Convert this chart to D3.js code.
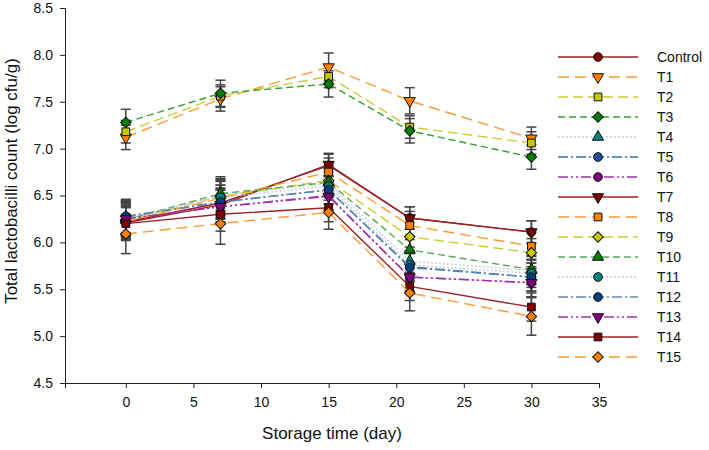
<!DOCTYPE html>
<html>
<head>
<meta charset="utf-8">
<script src="https://cdn.jsdelivr.net/npm/d3@7"></script>
<style>
  body { margin: 0; background: #fff; }
  svg text { font-family: "Liberation Sans", Arial, sans-serif; fill: #111; }
</style>
</head>
<body>
<div id="chart"></div>
<script>
// Storage days sampled
const days = [0, 7, 15, 21, 30];

const seriesNames = ['Control', 'T1', 'T2', 'T3', 'T4', 'T5', 'T6', 'T7',
  'T8', 'T9', 'T10', 'T11', 'T12', 'T13', 'T14', 'T15'];

// mean log cfu/g per day
const control = [6.22, 6.42, 6.82, 6.26, 6.11];
const t1  = [7.12, 7.53, 7.87, 7.51, 7.11];
const t2  = [7.18, 7.56, 7.77, 7.23, 7.06];
const t3  = [7.28, 7.59, 7.69, 7.19, 6.91];
const t4  = [6.25, 6.50, 6.63, 5.80, 5.70];
const t5  = [6.27, 6.43, 6.56, 5.74, 5.63];
const t6  = [6.25, 6.38, 6.50, 5.63, 5.57];
const t7  = [6.21, 6.40, 6.83, 6.26, 6.11];
const t8  = [6.22, 6.47, 6.75, 6.18, 5.96];
const t9  = [6.23, 6.49, 6.66, 6.06, 5.89];
const t10 = [6.24, 6.52, 6.64, 5.92, 5.71];
const t11 = [6.26, 6.48, 6.60, 5.76, 5.67];
const t12 = [6.28, 6.43, 6.56, 5.73, 5.63];
const t13 = [6.25, 6.38, 6.49, 5.63, 5.57];
const t14 = [6.20, 6.30, 6.37, 5.53, 5.31];
const t15 = [6.09, 6.20, 6.32, 5.46, 5.21];

// standard deviations
const errControl = [0.15, 0.15, 0.12, 0.12, 0.12];
const errT1  = [0.13, 0.13, 0.15, 0.14, 0.12];
const errT2  = [0.12, 0.12, 0.12, 0.12, 0.12];
const errT3  = [0.14, 0.14, 0.14, 0.13, 0.13];
const errT4  = [0.18, 0.18, 0.15, 0.15, 0.15];
const errT5  = [0.18, 0.18, 0.15, 0.15, 0.15];
const errT6  = [0.18, 0.18, 0.15, 0.15, 0.15];
const errT7  = [0.18, 0.18, 0.12, 0.12, 0.12];
const errT8  = [0.18, 0.18, 0.15, 0.15, 0.15];
const errT9  = [0.18, 0.18, 0.15, 0.15, 0.15];
const errT10 = [0.18, 0.18, 0.15, 0.15, 0.15];
const errT11 = [0.18, 0.18, 0.15, 0.15, 0.15];
const errT12 = [0.18, 0.18, 0.15, 0.15, 0.15];
const errT13 = [0.18, 0.18, 0.15, 0.15, 0.15];
const errT14 = [0.18, 0.18, 0.15, 0.15, 0.15];
const errT15 = [0.21, 0.22, 0.18, 0.19, 0.2];

const yTicks = [4.5, 5.0, 5.5, 6.0, 6.5, 7.0, 7.5, 8.0, 8.5];
const xTicks = [0, 5, 10, 15, 20, 25, 30, 35];

const values = [control, t1, t2, t3, t4, t5, t6, t7, t8, t9, t10, t11, t12, t13, t14, t15];
const errors = [errControl, errT1, errT2, errT3, errT4, errT5, errT6, errT7,
  errT8, errT9, errT10, errT11, errT12, errT13, errT14, errT15];

// style per series: line colour, dash, marker shape, marker fill
const styles = [
  { line: '#9b2226', dash: null,            shape: 'circle',   fill: '#8b0000' },
  { line: '#ff9933', dash: '11,6',          shape: 'triDown',  fill: '#ff8000' },
  { line: '#cccc33', dash: '10,5',          shape: 'square',   fill: '#c8c800' },
  { line: '#33a033', dash: '7,4',           shape: 'diamond',  fill: '#008000' },
  { line: '#c0d0e0', dash: '2,2',           shape: 'triUp',    fill: '#008080' },
  { line: '#3a6ea5', dash: '10,3,2,3',      shape: 'circle',   fill: '#1f4e9a' },
  { line: '#a030b0', dash: '10,3,2,3,2,3',  shape: 'circle',   fill: '#800080' },
  { line: '#9b2226', dash: null,            shape: 'triDown',  fill: '#800000' },
  { line: '#ff9933', dash: '11,6',          shape: 'square',   fill: '#ff8000' },
  { line: '#cccc33', dash: '10,5',          shape: 'diamond',  fill: '#c8c800' },
  { line: '#55aa55', dash: '7,4',           shape: 'triUp',    fill: '#008000' },
  { line: '#c0d0e0', dash: '2,2',           shape: 'circle',   fill: '#008080' },
  { line: '#5a86b8', dash: '10,3,2,3',      shape: 'circle',   fill: '#003f7f' },
  { line: '#a030b0', dash: '10,3,2,3,2,3',  shape: 'triDown',  fill: '#800080' },
  { line: '#9b2226', dash: null,            shape: 'square',   fill: '#800000' },
  { line: '#ff9933', dash: '11,6',          shape: 'diamond',  fill: '#ff8000' }
];

const symbolType = {
  circle: d3.symbolCircle, square: d3.symbolSquare, diamond: d3.symbolSquare,
  triUp: d3.symbolTriangle, triDown: d3.symbolTriangle
};
const symbolSize = { circle: 60, square: 60, diamond: 55, triUp: 55, triDown: 55 };
const symbolRot = { circle: 0, square: 0, diamond: 45, triUp: 0, triDown: 180 };

const width = 709, height = 450;
const svg = d3.select('#chart').append('svg')
  .attr('width', width).attr('height', height);

const x = d3.scaleLinear().domain([-4.5, 35]).range([65, 599]);
const y = d3.scaleLinear().domain([4.5, 8.5]).range([383, 8]);

// Axes
svg.append('g')
  .attr('transform', 'translate(0,383)')
  .call(d3.axisBottom(x).tickValues(xTicks).tickSizeOuter(0).tickSize(5).tickPadding(9))
  .call(g => g.selectAll('text').attr('font-size', 14))
  .call(g => g.selectAll('line,path').attr('stroke', '#222'));

svg.append('g')
  .attr('transform', 'translate(65,0)')
  .call(d3.axisLeft(y).tickValues(yTicks).tickFormat(d3.format('.1f')).tickSizeOuter(0).tickSize(5).tickPadding(7))
  .call(g => g.selectAll('text').attr('font-size', 14))
  .call(g => g.selectAll('line,path').attr('stroke', '#222'));

// Axis titles
svg.append('text')
  .attr('x', 332).attr('y', 439)
  .attr('text-anchor', 'middle').attr('font-size', 17)
  .text('Storage time (day)');

svg.append('text')
  .attr('transform', 'rotate(-90)')
  .attr('x', -181).attr('y', 17)
  .attr('text-anchor', 'middle').attr('font-size', 17)
  .text('Total lactobacilli count (log cfu/g)');

function drawMarker(g, shape, fill, cx, cy) {
  const p = d3.symbol().type(symbolType[shape]).size(symbolSize[shape]);
  g.append('path')
    .attr('d', p())
    .attr('transform', `translate(${cx},${cy}) rotate(${symbolRot[shape]})`)
    .attr('fill', fill)
    .attr('stroke', '#111')
    .attr('stroke-width', 1);
}

const plot = svg.append('g');
const line = d3.line().x((d, i) => x(days[i])).y(d => y(d));

// Error bars first
values.forEach((vals, s) => {
  const eb = plot.append('g').attr('stroke', '#444').attr('stroke-width', 1.5);
  vals.forEach((v, i) => {
    const cx = x(days[i]);
    const lo = y(v - errors[s][i]), hi = y(v + errors[s][i]);
    eb.append('line').attr('x1', cx).attr('x2', cx).attr('y1', lo).attr('y2', hi);
    eb.append('line').attr('x1', cx - 5).attr('x2', cx + 5).attr('y1', lo).attr('y2', lo);
    eb.append('line').attr('x1', cx - 5).attr('x2', cx + 5).attr('y1', hi).attr('y2', hi);
  });
});

// Lines and markers
values.forEach((vals, s) => {
  const st = styles[s];
  plot.append('path')
    .datum(vals)
    .attr('fill', 'none')
    .attr('stroke', st.line)
    .attr('stroke-width', 1.4)
    .attr('stroke-dasharray', st.dash)
    .attr('d', line);
  const mg = plot.append('g');
  vals.forEach((v, i) => drawMarker(mg, st.shape, st.fill, x(days[i]), y(v)));
});

// Legend
const legend = svg.append('g');
seriesNames.forEach((name, s) => {
  const st = styles[s];
  const ly = 57 + s * 20;
  legend.append('line')
    .attr('x1', 558).attr('x2', 638).attr('y1', ly).attr('y2', ly)
    .attr('stroke', st.line).attr('stroke-width', 1.4)
    .attr('stroke-dasharray', st.dash);
  drawMarker(legend, st.shape, st.fill, 598, ly);
  legend.append('text')
    .attr('x', 657).attr('y', ly + 5)
    .attr('font-size', 14)
    .text(name);
});
</script>
</body>
</html>
